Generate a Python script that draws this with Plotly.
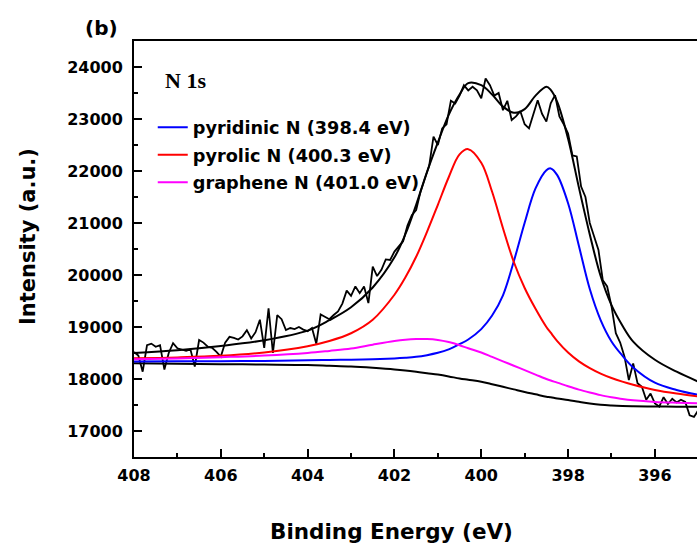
import plotly.graph_objects as go

# ---- raw spectrum (noisy data) ----
energy = [408.0, 407.9, 407.8, 407.7, 407.6, 407.5, 407.4, 407.3, 407.2, 407.1,
          407.0, 406.9, 406.8, 406.7, 406.6, 406.5, 406.4, 406.3, 406.2, 406.1,
          406.0, 405.9, 405.8, 405.7, 405.6, 405.5, 405.4, 405.3, 405.2, 405.1,
          405.0, 404.9, 404.8, 404.7, 404.6, 404.5, 404.4, 404.3, 404.2, 404.1,
          404.0, 403.9, 403.8, 403.7, 403.6, 403.5, 403.4, 403.3, 403.2, 403.1,
          403.0, 402.9, 402.8, 402.7, 402.6, 402.5, 402.4, 402.3, 402.2, 402.1,
          402.0, 401.9, 401.8, 401.7, 401.6, 401.5, 401.4, 401.3, 401.2, 401.1,
          401.0, 400.9, 400.8, 400.7, 400.6, 400.5, 400.4, 400.3, 400.2, 400.1,
          400.0, 399.9, 399.8, 399.7, 399.6, 399.5, 399.4, 399.3, 399.2, 399.1,
          399.0, 398.9, 398.8, 398.7, 398.6, 398.5, 398.4, 398.3, 398.2, 398.1,
          398.0, 397.9, 397.8, 397.7, 397.6, 397.5, 397.4, 397.3, 397.2, 397.1,
          397.0, 396.9, 396.8, 396.7, 396.6, 396.5, 396.4, 396.3, 396.2, 396.1,
          396.0, 395.9, 395.8, 395.7, 395.6, 395.5, 395.4, 395.3, 395.2, 395.1,
          395.0]
counts = [18520, 18450, 18140, 18650, 18680, 18620, 18650, 18180, 18500, 18690,
          18590, 18560, 18540, 18570, 18240, 18750, 18700, 18620, 18600, 18520,
          18430, 18700, 18810, 18790, 18760, 18820, 18940, 18780, 18900, 19140,
          18600, 19360, 18500, 19230, 19150, 18940, 18980, 18960, 19000, 18950,
          18920, 18980, 18680, 19240, 19200, 19150, 19230, 19300, 19450, 19700,
          19600, 19780, 19650, 19780, 19460, 20160, 19980, 20100, 20300, 20290,
          20450, 20550, 20650, 20950, 21150, 21250, 21600, 21850, 22100, 22660,
          22500, 22820, 22900, 23350, 23300, 23450, 23650, 23550, 23620, 23550,
          23400, 23780, 23650, 23450, 23500, 23170, 23350, 22980, 23050, 23150,
          22900, 22820, 23100, 23360, 23100, 22950, 23300, 23460, 23050, 22900,
          22720, 22300, 22280, 21700, 21500, 21000, 20740, 20480, 19900, 19780,
          19400, 18880, 18700, 18430, 17980, 18300, 17920, 17850, 17600, 17720,
          17530, 17470, 17650, 17520, 17620, 17550, 17600, 17560, 17300, 17270,
          17400]

# ---- fitted curves ----
fit_energy = [408, 407, 406, 405, 404, 403.5, 403, 402.5, 402, 401.75, 401.5,
              401.25, 401, 400.75, 400.5, 400.3, 400, 399.75, 399.5, 399.25,
              399, 398.75, 398.5, 398.4, 398.25, 398, 397.75, 397.5, 397.25,
              397, 396.75, 396.5, 396, 395.5, 395]
envelope = [18500, 18555, 18635, 18745, 18930, 19130, 19380, 19760, 20340, 20780,
            21350, 21980, 22550, 23080, 23470, 23690, 23650, 23470, 23240, 23120,
            23190, 23450, 23620, 23560, 23330, 22620, 21680, 20780, 19980, 19420,
            19030, 18720, 18370, 18140, 17950]
background = [18302, 18295, 18285, 18278, 18269, 18255, 18240, 18215, 18185, 18165,
              18140, 18112, 18085, 18050, 18010, 17985, 17947, 17900, 17850, 17800,
              17750, 17705, 17660, 17648, 17625, 17596, 17562, 17530, 17505, 17490,
              17480, 17475, 17470, 17468, 17466]
pyridinic = [18337, 18339, 18342, 18348, 18361, 18366, 18372, 18382, 18396, 18408,
             18426, 18458, 18503, 18570, 18670, 18760, 18959, 19220, 19610, 20264,
             21006, 21665, 22016, 22050, 21920, 21380, 20557, 19730, 19133, 18722,
             18450, 18223, 17930, 17790, 17695]
pyrolic = [18400, 18415, 18445, 18510, 18630, 18730, 18880, 19140, 19620, 19950,
           20350, 20830, 21350, 21880, 22320, 22420, 22160, 21600, 20900, 20250,
           19750, 19350, 19000, 18890, 18730, 18510, 18340, 18210, 18105, 18020,
           17950, 17890, 17790, 17720, 17665]
graphene = [18380, 18395, 18420, 18450, 18500, 18540, 18585, 18660, 18730, 18755,
            18768, 18768, 18750, 18710, 18650, 18590, 18510, 18425, 18340, 18255,
            18170, 18085, 18000, 17970, 17930, 17860, 17795, 17740, 17690, 17650,
            17615, 17590, 17560, 17545, 17535]

component_names = ["pyridinic N (398.4 eV)", "pyrolic N (400.3 eV)", "graphene N (401.0 eV)"]
component_colors = ["#0000ff", "#ff0000", "#ff00ff"]

x_tickvals = [408, 406, 404, 402, 400, 398, 396]
x_ticktext = ["408", "406", "404", "402", "400", "398", "396"]
y_tickvals = [17000, 18000, 19000, 20000, 21000, 22000, 23000, 24000]
y_ticktext = ["17000", "18000", "19000", "20000", "21000", "22000", "23000", "24000"]

SANS = "DejaVu Sans"

fig = go.Figure()
fig.add_trace(go.Scatter(x=energy, y=counts, mode="lines",
                         line=dict(color="black", width=1.8), showlegend=False))
fig.add_trace(go.Scatter(x=fit_energy, y=envelope, mode="lines",
                         line=dict(color="black", width=2, shape="spline"), showlegend=False))
fig.add_trace(go.Scatter(x=fit_energy, y=background, mode="lines",
                         line=dict(color="black", width=2, shape="spline"), showlegend=False))
for name, vals, col in zip(component_names, [pyridinic, pyrolic, graphene], component_colors):
    fig.add_trace(go.Scatter(x=fit_energy, y=vals, mode="lines", name=name, legendgroup=name,
                             line=dict(color=col, width=2, shape="spline")))

axis_common = dict(
    showline=True, linecolor="black", linewidth=2,
    ticks="inside", ticklen=8, tickwidth=2, tickcolor="black",
    showgrid=False, zeroline=False,
    tickfont=dict(family=SANS, size=16, color="black", weight="bold"),
)

fig.update_layout(
    width=697, height=548,
    margin=dict(l=134, r=0, t=41, b=91),
    plot_bgcolor="white", paper_bgcolor="white",
    xaxis=dict(range=[408, 395.03], tickmode="array", tickvals=x_tickvals, ticktext=x_ticktext,
               mirror=True, ticklabelstandoff=3,
               minor=dict(ticks="inside", ticklen=4, tickwidth=1.5, tickcolor="black",
                          tickmode="linear", tick0=408, dtick=1),
               **axis_common),
    yaxis=dict(range=[16500, 24500], tickmode="array", tickvals=y_tickvals, ticktext=y_ticktext,
               ticklabelstandoff=6,
               minor=dict(ticks="inside", ticklen=4, tickwidth=1.5, tickcolor="black",
                          tickmode="linear", tick0=16500, dtick=500),
               **axis_common),
    legend=dict(x=0.0333, y=0.836, xanchor="left", yanchor="top",
                bgcolor="rgba(0,0,0,0)", tracegroupgap=1.5,
                font=dict(family=SANS, size=17.7, color="black", weight="bold")),
    showlegend=True,
    annotations=[
        dict(text="(b)", xref="paper", yref="paper", x=-0.0586, y=1.031,
             xanchor="center", yanchor="middle", showarrow=False,
             font=dict(family=SANS, size=20, color="black", weight="bold")),
        dict(text="N 1s", xref="paper", yref="paper", x=0.0906, y=0.906,
             xanchor="center", yanchor="middle", showarrow=False,
             font=dict(family="Liberation Serif", size=22, color="black", weight="bold")),
        dict(text="Binding Energy (eV)", xref="paper", yref="paper", x=0.458, y=-0.180,
             xanchor="center", yanchor="middle", showarrow=False,
             font=dict(family=SANS, size=21.5, color="black", weight="bold")),
        dict(text="Intensity (a.u.)", xref="paper", yref="paper", x=-0.188, y=0.529,
             xanchor="center", yanchor="middle", showarrow=False, textangle=-90,
             font=dict(family=SANS, size=21, color="black", weight="bold")),
    ],
)

fig.write_html(
    "out.html",
    config={"displayModeBar": False},
    post_script="document.body.style.margin='0px';document.body.style.padding='0px';"
                "document.body.style.overflow='hidden';",
)
